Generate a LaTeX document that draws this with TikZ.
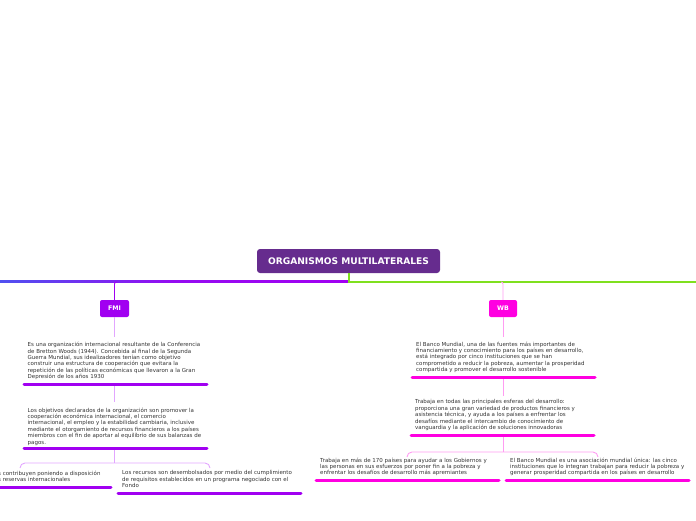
\documentclass[tikz,border=0pt]{standalone}
\usepackage{fontspec}
\newfontfamily\tf{DejaVu Sans}
\newfontfamily\tfb{DejaVu Sans Bold}
\definecolor{rootc}{HTML}{662C8E}
\definecolor{fmic}{HTML}{A100F1}
\definecolor{fmil}{HTML}{E2A6FF}
\definecolor{wbc}{HTML}{FF00E1}
\definecolor{wbl}{HTML}{FF9CF2}
\definecolor{greenc}{HTML}{7FE01E}
\definecolor{bluec}{HTML}{5050F0}
\definecolor{txt}{HTML}{333333}
\tikzset{
  rootbox/.style={draw=none, fill=rootc, rounded corners=3pt, minimum width=183pt, minimum height=24pt, text=white, font=\tfb\fontsize{9.1}{10}\selectfont},
  subbox/.style={draw=none, rounded corners=2pt, minimum height=17pt, text=white, font=\tfb\fontsize{6.3}{7}\selectfont, inner sep=0pt},
  body/.style={anchor=north west, inner sep=0pt, align=left, text=txt, font=\tf\fontsize{5.5}{6.4}\selectfont},
  ul/.style={line width=3pt, line cap=round},
  conn/.style={line width=0.9pt},
}
\begin{document}
\begin{tikzpicture}[x=1pt,y=-1pt]
\useasboundingbox (0,0) rectangle (696,520);
% root
\node[rootbox] (root) at (348.5,261) {ORGANISMOS MULTILATERALES};
\coordinate (L) at (0,281.5);
\coordinate (R) at (696,281.5);
\shade[left color=bluec, right color=fmic, middle color=fmic!85!bluec] (0,280.5) rectangle (348.5,282.5);
\draw[greenc, line width=2pt] (root.south) -- (348.5,281.5) -- (R);
% FMI
\node[subbox, fill=fmic, minimum width=29pt] (fmi) at (114.5,308.5) {FMI};
\draw[fmic, conn, rounded corners=2pt] (fmi.north) -- (114.5,282) -- (117,282);
\node[body] (t1) at (27.5,342) {Es una organización internacional resultante de la Conferencia\\de Bretton Woods (1944). Concebida al final de la Segunda\\Guerra Mundial, sus idealizadores tenían como objetivo\\construir una estructura de cooperación que evitara la\\repetición de las políticas económicas que llevaron a la Gran\\Depresión de los años 1930};
\draw[fmic, ul] (24,384) -- (207,384);
\draw[fmil, conn] (fmi.south) -- (114.5,337);
\draw[fmil, conn] (114.5,386) -- (114.5,402);
\node[body] (t2) at (27.5,407.5) {Los objetivos declarados de la organización son promover la\\cooperación económica internacional, el comercio\\internacional, el empleo y la estabilidad cambiaria, inclusive\\mediante el otorgamiento de recursos financieros a los países\\miembros con el fin de aportar al equilibrio de sus balanzas de\\pagos.};
\draw[fmic, ul] (24,448) -- (207,448);
\coordinate (fb) at (114.5,463);
\draw[fmil, conn] (114.5,450) -- (fb);
\draw[fmil, conn, rounded corners=5pt] (20,468) -- (20,463) -- (fb) -- (210,463) -- (210,468);
\node[body] (t3) at (-2,470.5) {s contribuyen poniendo a disposición\\s reservas internacionales};
\draw[fmic, ul] (-2,487) -- (111,487);
\node[body] (t4) at (122,470.5) {Los recursos son desembolsados por medio del cumplimiento\\de requisitos establecidos en un programa negociado con el\\Fondo};
\draw[fmic, ul] (118,493) -- (301,493);
% WB
\node[subbox, fill=wbc, minimum width=28pt] (wb) at (503,308.5) {WB};
\draw[wbl, conn, rounded corners=2pt] (wb.north) -- (503,282) -- (501,282);
\node[body] (t5) at (416,341.5) {El Banco Mundial, una de las fuentes más importantes de\\financiamiento y conocimiento para los países en desarrollo,\\está integrado por cinco instituciones que se han\\comprometido a reducir la pobreza, aumentar la prosperidad\\compartida y promover el desarrollo sostenible};
\draw[wbc, ul] (412,377) -- (595,377);
\draw[wbl, conn] (wb.south) -- (503,337);
\draw[wbl, conn] (503,379) -- (503,396);
\node[body] (t6) at (415,399.5) {Trabaja en todas las principales esferas del desarrollo:\\proporciona una gran variedad de productos financieros y\\asistencia técnica, y ayuda a los países a enfrentar los\\desafíos mediante el intercambio de conocimiento de\\vanguardia y la aplicación de soluciones innovadoras};
\draw[wbc, ul] (411,435) -- (594,435);
\coordinate (wbb) at (503,452);
\draw[wbl, conn] (503,437) -- (wbb);
\draw[wbl, conn, rounded corners=5pt] (407,457) -- (407,452) -- (wbb) -- (598,452) -- (598,457);
\node[body] (t7) at (320,457.5) {Trabaja en más de 170 países para ayudar a los Gobiernos y\\las personas en sus esfuerzos por poner fin a la pobreza y\\enfrentar los desafíos de desarrollo más apremiantes};
\draw[wbc, ul] (316,480) -- (499,480);
\node[body] (t8) at (510,457.5) {El Banco Mundial es una asociación mundial única: las cinco\\instituciones que lo integran trabajan para reducir la pobreza y\\generar prosperidad compartida en los países en desarrollo};
\draw[wbc, ul] (506,480) -- (689,480);
\end{tikzpicture}
\end{document}
